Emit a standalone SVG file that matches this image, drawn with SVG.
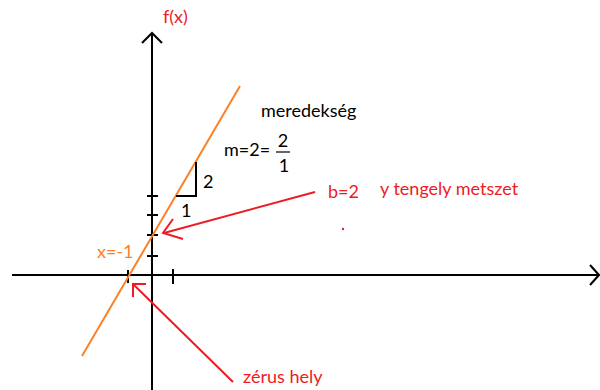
<svg xmlns="http://www.w3.org/2000/svg" width="600" height="390" viewBox="0 0 600 390">
<style>
.ax{stroke:#000;stroke-width:2;fill:none;stroke-linecap:butt}
.or{stroke:#FF7F27;stroke-width:2;fill:none}
.rd{stroke:#ED1C24;stroke-width:2;fill:none}
text{font-family:Lato,"Liberation Sans",sans-serif;font-size:18px}
.tb{fill:#000}
.tr{fill:#ED1C24}
.to{fill:#FF7F27}
</style>
<rect width="600" height="390" fill="#fff"/>
<g id="axes">
<line class="ax" x1="152" y1="33" x2="152" y2="390"/>
<polyline class="ax" points="142,43 152,33 162,43"/>
<line class="ax" x1="12" y1="275" x2="598" y2="275"/>
<polyline class="ax" points="590,265 599,275 590,285"/>
<g id="ticks">
<line class="ax" x1="147" y1="196" x2="158" y2="196"/>
<line class="ax" x1="147" y1="215" x2="158" y2="215"/>
<line class="ax" x1="147" y1="235" x2="158" y2="235"/>
<line class="ax" x1="147" y1="256" x2="158" y2="256"/>
<line class="ax" x1="128" y1="270" x2="128" y2="283"/>
<line class="ax" x1="173" y1="269" x2="173" y2="284"/>
</g>
<text class="tr" x="163" y="23">f(x)</text>
</g>
<g id="function-line">
<line class="or" x1="82" y1="356" x2="240" y2="86"/>
<text class="to" x="97" y="258">x=-1</text>
</g>
<g id="slope-triangle">
<polyline class="ax" points="176,196 196,196 196,162"/>
<text class="tb" x="203" y="188">2</text>
<text class="tb" x="181" y="217">1</text>
</g>
<g id="slope-label">
<text class="tb" x="261" y="117">meredekség</text>
<text class="tb" x="224" y="156">m=2=</text>
<text class="tb" x="283" y="147" text-anchor="middle">2</text>
<line x1="276" y1="152" x2="290" y2="152" stroke="#000" stroke-width="1.2"/>
<text class="tb" x="284" y="172" text-anchor="middle">1</text>
</g>
<g id="intercept-label">
<text class="tr" x="328" y="198">b=2</text>
<text class="tr" x="380" y="195">y tengely metszet</text>
<circle cx="343" cy="229" r="1.2" fill="#ED1C24"/>
</g>
<g id="zero-label">
<text class="tr" x="243" y="383">zérus hely</text>
</g>
<g id="connectors">
<line class="rd" x1="315" y1="192" x2="164" y2="233"/>
<polyline class="rd" points="173,219 163,233 183,239"/>
<line class="rd" x1="134" y1="285" x2="233" y2="382"/>
<polyline class="rd" points="133,297 133,284 146,284"/>
</g>
</svg>
